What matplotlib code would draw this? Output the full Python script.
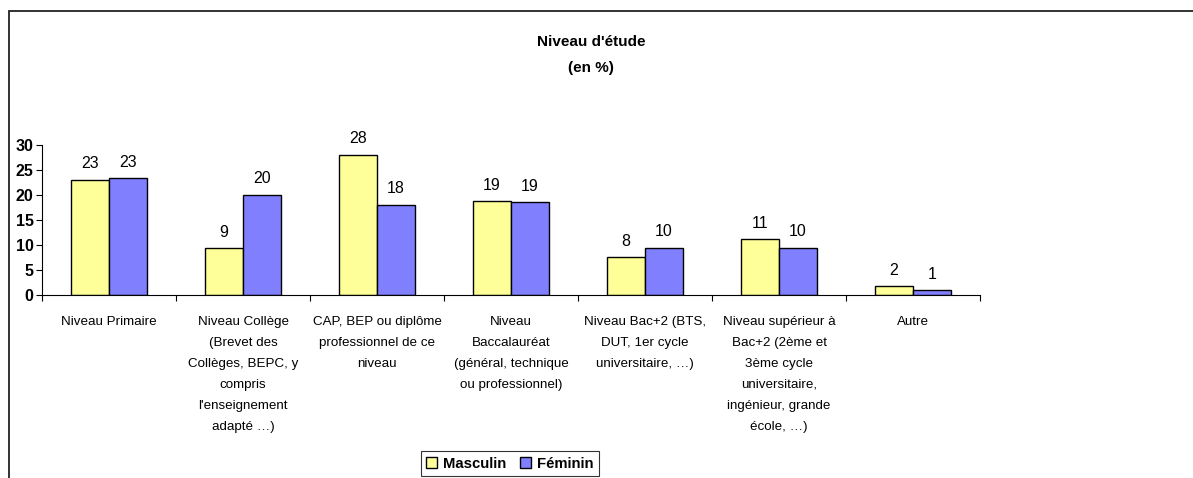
import numpy as np
import matplotlib.pyplot as plt
from matplotlib.patches import Rectangle

plt.rcParams["font.family"] = ["Liberation Sans", "DejaVu Sans"]

# ---------------------------------------------------------------------------
# Data
# ---------------------------------------------------------------------------
categories = [
    "Niveau Primaire",
    "Niveau Collège\n(Brevet des\nCollèges, BEPC, y\ncompris\nl'enseignement\nadapté …)",
    "CAP, BEP ou diplôme\nprofessionnel de ce\nniveau",
    "Niveau\nBaccalauréat\n(général, technique\nou professionnel)",
    "Niveau Bac+2 (BTS,\nDUT, 1er cycle\nuniversitaire, …)",
    "Niveau supérieur à\nBac+2 (2ème et\n3ème cycle\nuniversitaire,\ningénieur, grande\nécole, …)",
    "Autre",
]
masculin = [23.1, 9.4, 28.1, 18.8, 7.6, 11.2, 1.8]
feminin = [23.4, 20.1, 18.1, 18.6, 9.5, 9.5, 1.0]
series_names = ["Masculin", "Féminin"]
colors = ["#FFFF99", "#8080FF"]

W, H = 1193, 478
fig = plt.figure(figsize=(W / 100, H / 100), dpi=100)

# outer frame (cut by the right and bottom edges)
fig.patches.append(Rectangle((9 / W, -0.05), 1.2, 1 - 11 / H + 0.05,
                             transform=fig.transFigure, fill=False,
                             edgecolor="#222222", linewidth=1.3))

ax = fig.add_axes([42 / W, 1 - 295 / H, (980 - 42) / W, 150 / H])

x = np.arange(len(categories))
bw = 0.284
for i, (vals, name, col) in enumerate(zip([masculin, feminin], series_names, colors)):
    pos = x + (i - 0.5) * bw
    ax.bar(pos, vals, width=bw, color=col, edgecolor="black", linewidth=1.0,
           label=name, zorder=2)
    for px, v in zip(pos, vals):
        ax.annotate(f"{v:.0f}", (px, v), xytext=(0, 6), textcoords="offset points",
                    ha="center", va="bottom", fontsize=11.5)

ax.set_xlim(-0.5, len(categories) - 0.5)
ax.set_ylim(0, 30)
ax.set_yticks([0, 5, 10, 15, 20, 25, 30])
ax.tick_params(axis="y", direction="out", length=4, width=0.8, pad=2,
               labelsize=11.5)
for t in ax.get_yticklabels():
    t.set_fontweight("bold")

ax.set_xticks(x)
ax.set_xticklabels(categories, fontsize=9.6, linespacing=2.0, va="top")
ax.tick_params(axis="x", which="major", length=0, pad=15)
ax.set_xticks(np.arange(-0.5, len(categories)), minor=True)
ax.tick_params(axis="x", which="minor", direction="out", length=4, width=0.8)

for s in ["top", "right"]:
    ax.spines[s].set_visible(False)
for s in ["left", "bottom"]:
    ax.spines[s].set_linewidth(0.8)

fig.text(591 / W, 1 - 42 / H, "Niveau d'étude", ha="center", va="center",
         fontsize=11, fontweight="bold")
fig.text(591 / W, 1 - 68 / H, "(en %)", ha="center", va="center",
         fontsize=11, fontweight="bold")

leg = fig.legend(loc="center", bbox_to_anchor=(510 / W, 1 - 463.5 / H), ncol=2,
                 frameon=True, fancybox=False, edgecolor="black",
                 prop={"weight": "bold", "size": 10.7}, handlelength=0.75,
                 handleheight=0.75, handletextpad=0.4, columnspacing=0.9,
                 borderpad=0.35, borderaxespad=0)
leg.get_frame().set_linewidth(0.8)

fig.savefig("out.png", dpi=100)
